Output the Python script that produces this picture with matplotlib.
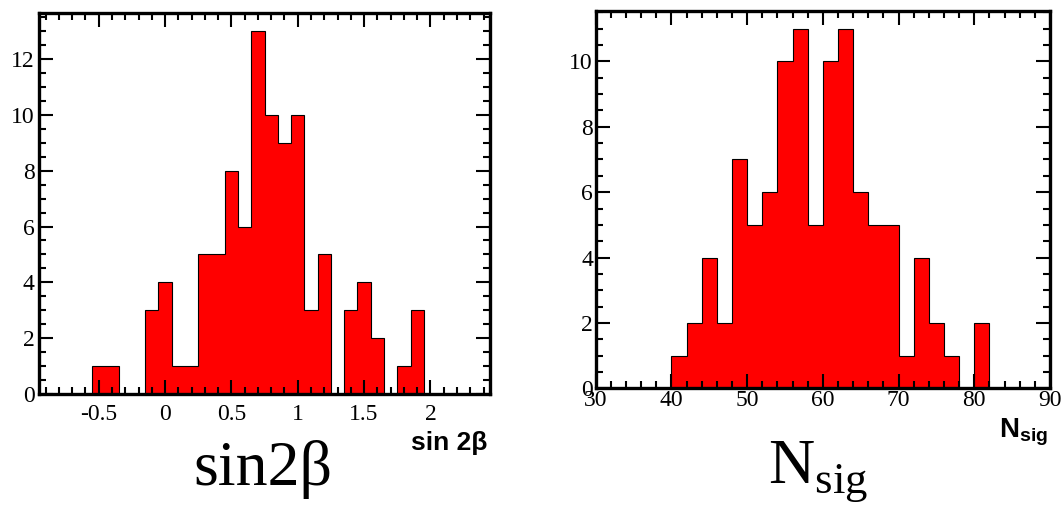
import numpy as np
import matplotlib
matplotlib.use("Agg")
import matplotlib.pyplot as plt
from matplotlib.ticker import MultipleLocator, FormatStrFormatter

plt.rcParams["mathtext.fontset"] = "custom"
plt.rcParams["mathtext.rm"] = "Liberation Serif"
plt.rcParams["mathtext.bf"] = "Liberation Sans:bold"

# sin2beta fit results: 34 bins of width 0.1 on [-0.95, 2.45]
s2b_range = (-0.95, 2.45)
s2b_counts = [0, 0, 0, 0, 1, 1, 0, 0, 3, 4, 1, 1, 5, 5, 8, 6, 13,
              10, 9, 10, 3, 5, 0, 3, 4, 2, 0, 1, 3, 0, 0, 0, 0, 0]
s2b_ticks = [-0.5, 0, 0.5, 1, 1.5, 2]

# fitted signal yield: 30 bins of width 2 on [30, 90]
nsig_range = (30, 90)
nsig_counts = [0, 0, 0, 0, 0, 1, 2, 4, 2, 7, 5, 6, 10, 11, 5, 10,
               11, 6, 5, 5, 1, 4, 2, 1, 0, 2, 0, 0, 0, 0]
nsig_ticks = [30, 40, 50, 60, 70, 80, 90]

SERIF = "Liberation Serif"
FILL = "#ff0000"

fig = plt.figure(figsize=(10.63, 5.08), dpi=100)
ax1 = fig.add_axes([0.0367, 0.2244, 0.4244, 0.7500])
ax2 = fig.add_axes([0.5604, 0.2356, 0.4274, 0.7433])


def draw_hist(ax, counts, rng, ymax, xmajor, xminor, xticks, xpad, ypad):
    edges = np.linspace(rng[0], rng[1], len(counts) + 1)
    ax.stairs(counts, edges, fill=True, facecolor=FILL,
              edgecolor="black", linewidth=0.8, zorder=1)
    ax.set_xlim(*rng)
    ax.set_ylim(0, ymax)
    ax.xaxis.set_major_locator(MultipleLocator(xmajor))
    ax.xaxis.set_minor_locator(MultipleLocator(xminor))
    ax.set_xticks(xticks)
    ax.xaxis.set_major_formatter(FormatStrFormatter("%g"))
    ax.yaxis.set_major_locator(MultipleLocator(2))
    ax.yaxis.set_minor_locator(MultipleLocator(0.5))
    ax.yaxis.set_major_formatter(FormatStrFormatter("%g"))
    ax.tick_params(which="both", direction="in", top=True, right=True,
                   width=1.5, color="black")
    ax.tick_params(which="major", length=10)
    ax.tick_params(which="minor", length=5)
    ax.tick_params(axis="x", which="major", pad=xpad)
    ax.tick_params(axis="y", which="major", pad=ypad)
    for lab in ax.get_xticklabels() + ax.get_yticklabels():
        lab.set_fontfamily(SERIF)
        lab.set_fontsize(17)
    for sp in ax.spines.values():
        sp.set_linewidth(2.4)
        sp.set_zorder(3)


draw_hist(ax1, s2b_counts, s2b_range, 13.65, 0.5, 0.1, s2b_ticks, 7, 3)
draw_hist(ax2, nsig_counts, nsig_range, 11.55, 10, 2, nsig_ticks, 1, 2)

# small axis titles at the right end of each x axis
ax1.text(0.994, -0.098, "sin 2β", transform=ax1.transAxes, ha="right",
         va="top", family="Liberation Sans", weight="bold", fontsize=19)
ax2.text(0.995, -0.075, r"$\mathbf{N_{sig}}$", transform=ax2.transAxes,
         ha="right", va="top", fontsize=20)

# large captions under each panel
fig.text(0.2475, 1 - 485 / 508, "sin2β", ha="center", va="baseline",
         family=SERIF, fontsize=46)
fig.text(0.770, 1 - 483 / 508, r"$\mathrm{N}_{\mathrm{sig}}$", ha="center",
         va="baseline", fontsize=46)

fig.savefig("out.png", dpi=100)
